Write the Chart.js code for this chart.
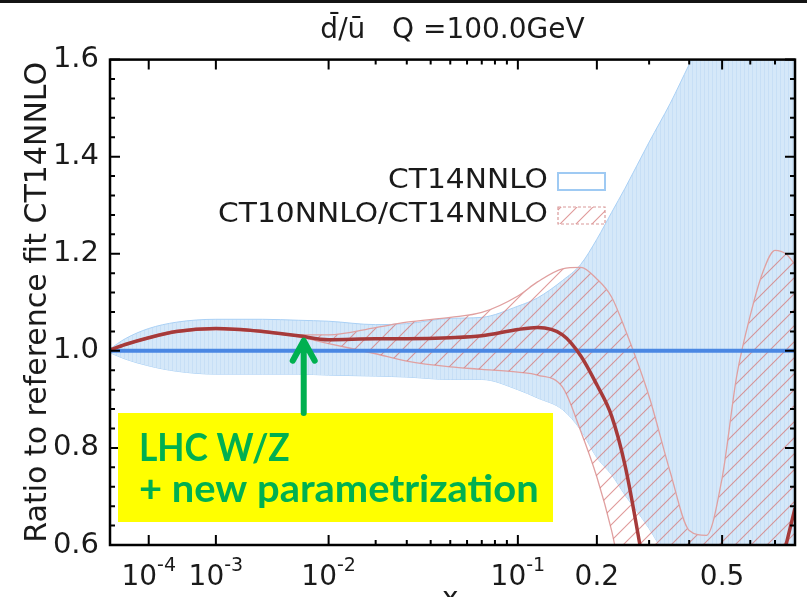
<!DOCTYPE html>
<html>
<head>
<meta charset="utf-8">
<script src="https://cdn.jsdelivr.net/npm/chart.js@4.4.1/dist/chart.umd.min.js"></script>
<style>
  html, body { margin: 0; padding: 0; background: #fff; overflow: hidden; }
  #wrap { width: 807px; height: 597px; position: relative; }
</style>
</head>
<body>
<div id="wrap"><canvas id="chart-dbar-ubar"></canvas></div>
<script>
// x is shown on an x^0.225 axis (log-like at small x, linear-like near 1)
const P = 0.225;
const xMin = 1.1e-5;
const xMax = 0.79;

const xValues = [1.1e-5, 3e-5, 1e-4, 3e-4, 1e-3, 3e-3, 6e-3, 1e-2, 2e-2, 3e-2, 5e-2, 7e-2,
  0.1, 0.12, 0.15, 0.175, 0.2, 0.225, 0.25, 0.3, 0.35, 0.4, 0.45, 0.5, 0.55, 0.6, 0.65, 0.7, 0.75, 0.79];

const ct14Upper = [1.004, 1.025, 1.046, 1.059, 1.065, 1.065, 1.063, 1.061, 1.054, 1.056, 1.067, 1.069,
  1.092, 1.109, 1.145, 1.178, 1.23, 1.285, 1.335, 1.43, 1.51, 1.59, 1.66, 1.73, 1.8, 1.86, 1.9, 1.95, 2.0, 2.0];
const ct14Lower = [0.996, 0.983, 0.969, 0.958, 0.952, 0.952, 0.952, 0.95, 0.948, 0.946, 0.941, 0.941,
  0.92, 0.903, 0.879, 0.837, 0.78, 0.745, 0.703, 0.634, 0.56, 0.5, 0.45, 0.42, 0.4, 0.4, 0.4, 0.4, 0.4, 0.4];
const ct14CentralX = [1.1e-5, 0.79];
const ct14Central = [1.0, 1.0];

const ct10Central = [1.002, 1.013, 1.027, 1.04, 1.046, 1.04, 1.031, 1.023, 1.025, 1.025, 1.027, 1.031,
  1.044, 1.048, 1.033, 0.99, 0.93, 0.866, 0.764, 0.5, 0.32, 0.25, 0.23, 0.24, 0.27, 0.32, 0.4, 0.5, 0.603, 0.676];
const ct10Upper = [1.004, 1.015, 1.029, 1.042, 1.048, 1.042, 1.033, 1.033, 1.048, 1.059, 1.069, 1.079,
  1.113, 1.142, 1.169, 1.172, 1.148, 1.111, 1.045, 0.906, 0.75, 0.63, 0.62, 0.738, 0.948, 1.073, 1.163, 1.207, 1.199, 1.178];
const ct10Lower = [1.0, 1.011, 1.025, 1.038, 1.044, 1.038, 1.029, 1.015, 0.994, 0.979, 0.967, 0.962,
  0.956, 0.95, 0.925, 0.835, 0.74, 0.63, 0.5, 0.4, 0.35, 0.3, 0.3, 0.3, 0.3, 0.3, 0.3, 0.3, 0.3, 0.3];

const xTickValues = [1e-4, 1e-3, 1e-2, 1e-1, 0.2, 0.5];
const xTickLabels = ['10^-4', '10^-3', '10^-2', '10^-1', '0.2', '0.5'];
const xMinorTicks = [0.02, 0.03, 0.04, 0.05, 0.06, 0.07, 0.08, 0.09, 0.3, 0.4, 0.6, 0.7];
const yTickValues = [0.6, 0.8, 1.0, 1.2, 1.4, 1.6];

const legendLabels = ['CT14NNLO', 'CT10NNLO/CT14NNLO'];
const noteLines = ['LHC W/Z', '+ new parametrization'];
const noteArrow = { x: 6.6e-3, y: 1.025 };

const toT = x => Math.pow(x, P);
const points = (xs, ys) => xs.map((x, i) => ({ x: toT(x), y: ys[i] }));

function stripePattern() {
  const c = document.createElement('canvas');
  c.width = 4; c.height = 4;
  const g = c.getContext('2d');
  g.fillStyle = '#d5e8f9';
  g.fillRect(0, 0, 4, 4);
  g.fillStyle = '#c7dff6';
  g.fillRect(0, 0, 1, 4);
  return g.createPattern(c, 'repeat');
}

function hatchPattern() {
  const s = 16;
  const c = document.createElement('canvas');
  c.width = s; c.height = s;
  const g = c.getContext('2d');
  g.strokeStyle = 'rgba(214,120,120,0.75)';
  g.lineWidth = 1.1;
  g.beginPath();
  g.moveTo(-2, s + 2); g.lineTo(s + 2, -2);
  g.moveTo(-2, 2); g.lineTo(2, -2);
  g.moveTo(s - 2, s + 2); g.lineTo(s + 2, s - 2);
  g.stroke();
  return g.createPattern(c, 'repeat');
}

const blueFill = stripePattern();
const redHatch = hatchPattern();

const decorations = {
  id: 'decorations',
  beforeDraw(chart) {
    const ctx = chart.ctx;
    ctx.save();
    ctx.fillStyle = '#ffffff';
    ctx.fillRect(0, 0, chart.width, chart.height);
    ctx.fillStyle = '#141414';
    ctx.fillRect(0, 0, chart.width, 3);
    ctx.restore();
  },
  afterDraw(chart) {
    const ctx = chart.ctx;
    const a = chart.chartArea;
    const xs = chart.scales.x;
    const ys = chart.scales.y;
    ctx.save();

    // inward ticks on all four sides
    ctx.strokeStyle = '#000';
    ctx.lineWidth = 2;
    ctx.beginPath();
    xTickValues.forEach(v => {
      const px = xs.getPixelForValue(toT(v));
      ctx.moveTo(px, a.bottom); ctx.lineTo(px, a.bottom - 10);
      ctx.moveTo(px, a.top); ctx.lineTo(px, a.top + 10);
    });
    xMinorTicks.forEach(v => {
      const px = xs.getPixelForValue(toT(v));
      ctx.moveTo(px, a.bottom); ctx.lineTo(px, a.bottom - 5);
      ctx.moveTo(px, a.top); ctx.lineTo(px, a.top + 5);
    });
    for (let k = 0; k <= 25; k++) {
      const v = 0.6 + k * 0.04;
      const py = ys.getPixelForValue(v);
      const len = k % 5 === 0 ? 10 : 5;
      ctx.moveTo(a.left, py); ctx.lineTo(a.left + len, py);
      ctx.moveTo(a.right, py); ctx.lineTo(a.right - len, py);
    }
    ctx.stroke();

    ctx.lineWidth = 2.5;
    ctx.strokeRect(a.left, a.top, a.right - a.left, a.bottom - a.top);

    // x tick labels with superscripts
    ctx.fillStyle = '#1a1a1a';
    ctx.textBaseline = 'alphabetic';
    ctx.textAlign = 'left';
    xTickValues.forEach((v, i) => {
      const px = xs.getPixelForValue(toT(v));
      const parts = xTickLabels[i].split('^');
      ctx.font = '28px "DejaVu Sans"';
      const wb = ctx.measureText(parts[0]).width;
      let we = 0;
      if (parts[1]) {
        ctx.font = '19px "DejaVu Sans"';
        we = ctx.measureText(parts[1]).width;
      }
      const x0 = px - (wb + we) / 2;
      ctx.font = '28px "DejaVu Sans"';
      ctx.fillText(parts[0], x0, a.bottom + 40);
      if (parts[1]) {
        ctx.font = '19px "DejaVu Sans"';
        ctx.fillText(parts[1], x0 + wb, a.bottom + 26);
      }
    });
    ctx.font = '28px "DejaVu Sans"';
    ctx.textAlign = 'center';
    ctx.fillText('x', xs.getPixelForValue(toT(0.05)), a.bottom + 62);

    // legend
    const lx = 548;
    const rows = [181, 215];
    ctx.font = '27px "DejaVu Sans"';
    ctx.textAlign = 'right';
    ctx.textBaseline = 'middle';
    rows.forEach((ry, i) => {
      ctx.save();
      ctx.translate(lx, ry);
      ctx.scale(1.1, 1);
      ctx.fillText(legendLabels[i], 0, 0);
      ctx.restore();
    });
    ctx.fillStyle = '#ffffff';
    ctx.fillRect(558, 173, 47, 17);
    ctx.strokeStyle = '#9fcaf3';
    ctx.lineWidth = 2;
    ctx.strokeRect(558, 173, 47, 17);
    ctx.fillStyle = redHatch;
    ctx.fillRect(558, 207, 47, 17);
    ctx.strokeStyle = '#d99a9a';
    ctx.lineWidth = 1.2;
    ctx.setLineDash([3, 2]);
    ctx.strokeRect(558, 207, 47, 17);
    ctx.setLineDash([]);

    // slide annotation
    const bx = a.left + 8, by = 413, bw = 435, bh = 109;
    ctx.fillStyle = '#ffff00';
    ctx.fillRect(bx, by, bw, bh);
    ctx.fillStyle = '#00b050';
    ctx.font = 'bold 38px Lato';
    ctx.textAlign = 'left';
    ctx.textBaseline = 'alphabetic';
    ctx.save();
    ctx.translate(bx + 21, by + 48);
    ctx.scale(0.93, 1);
    ctx.fillText(noteLines[0], 0, 0);
    ctx.restore();
    ctx.save();
    ctx.translate(bx + 21, by + 89);
    ctx.scale(1.05, 1);
    ctx.fillText(noteLines[1], 0, 0);
    ctx.restore();

    const ax = xs.getPixelForValue(toT(noteArrow.x));
    const ay = ys.getPixelForValue(noteArrow.y);
    ctx.strokeStyle = '#00b050';
    ctx.lineWidth = 6;
    ctx.lineCap = 'round';
    ctx.lineJoin = 'round';
    ctx.beginPath();
    ctx.moveTo(ax, by);
    ctx.lineTo(ax, ay + 2);
    ctx.moveTo(ax - 11, ay + 22);
    ctx.lineTo(ax, ay + 2);
    ctx.lineTo(ax + 11, ay + 22);
    ctx.stroke();

    ctx.restore();
  }
};

const bandLine = { pointRadius: 0, cubicInterpolationMode: 'monotone' };

new Chart(document.getElementById('chart-dbar-ubar').getContext('2d'), {
  type: 'line',
  data: {
    datasets: [
      { ...bandLine, label: 'CT10 central', data: points(xValues, ct10Central),
        borderColor: '#a63a3a', borderWidth: 3.5, fill: false, order: 0 },
      { ...bandLine, label: 'CT14 central', data: points(ct14CentralX, ct14Central),
        borderColor: '#4a87e3', borderWidth: 4, fill: false, order: 1 },
      { ...bandLine, label: 'CT10 upper', data: points(xValues, ct10Upper),
        borderColor: '#e0a0a0', borderWidth: 1.3, fill: '+1', backgroundColor: redHatch, order: 2 },
      { ...bandLine, label: 'CT10 lower', data: points(xValues, ct10Lower),
        borderColor: '#e0a0a0', borderWidth: 1.3, fill: false, order: 3 },
      { ...bandLine, label: 'CT14 upper', data: points(xValues, ct14Upper),
        borderColor: '#a9d0f5', borderWidth: 1, fill: '+1', backgroundColor: blueFill, order: 4 },
      { ...bandLine, label: 'CT14 lower', data: points(xValues, ct14Lower),
        borderColor: '#a9d0f5', borderWidth: 1, fill: false, order: 5 }
    ]
  },
  options: {
    responsive: true,
    maintainAspectRatio: false,
    animation: false,
    layout: { padding: { left: 0, right: 12, top: 0, bottom: 44 } },
    plugins: {
      legend: { display: false },
      tooltip: { enabled: false },
      title: {
        display: true,
        fullSize: false,
        text: 'd\u0304/\u016B   Q =100.0GeV',
        color: '#1a1a1a',
        font: { family: 'DejaVu Sans', size: 28, weight: 'normal' },
        padding: { top: 14, bottom: 12 }
      }
    },
    scales: {
      x: {
        type: 'linear',
        min: toT(xMin),
        max: toT(xMax),
        afterBuildTicks: s => { s.ticks = xTickValues.map(v => ({ value: toT(v) })); },
        ticks: { display: false },
        grid: { display: false },
        border: { display: false }
      },
      y: {
        min: 0.6,
        max: 1.6,
        afterBuildTicks: s => { s.ticks = yTickValues.map(v => ({ value: v })); },
        afterFit: s => { s.width = 110; },
        ticks: {
          color: '#1a1a1a',
          padding: 3,
          font: { family: 'DejaVu Sans', size: 29 },
          callback: v => Number(v).toFixed(1)
        },
        grid: { display: false },
        border: { display: false },
        title: {
          display: true,
          text: 'Ratio to reference fit CT14NNLO',
          color: '#1a1a1a',
          font: { family: 'DejaVu Sans', size: 30 },
          padding: { top: 20, bottom: 0 }
        }
      }
    }
  },
  plugins: [decorations]
});
</script>
</body>
</html>
